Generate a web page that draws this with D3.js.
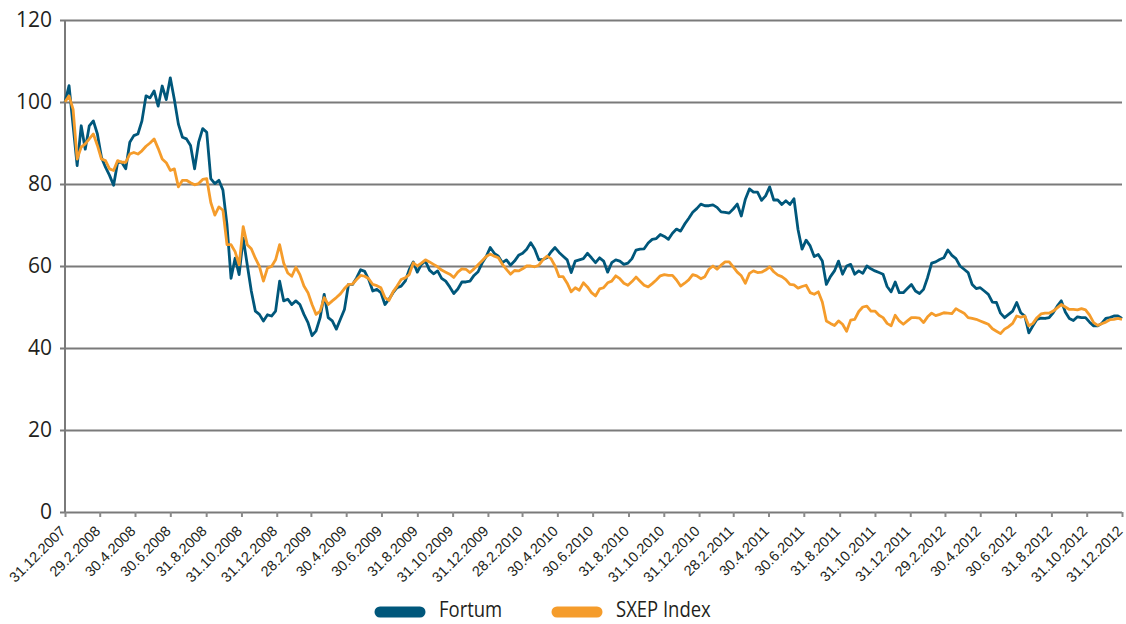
<!DOCTYPE html>
<html lang="en">
<head>
<meta charset="utf-8">
<title>Fortum vs SXEP Index</title>
<style>
  body { margin: 0; background: #ffffff; }
  svg { display: block; }
  .grid line { stroke: #7a7a7a; stroke-width: 2; }
  .ylab text { font-family: "Open Sans", "Liberation Sans", sans-serif; font-size: 21px; fill: #231f20; }
  .xaxis text { font-family: "Liberation Sans", Arial, sans-serif; font-size: 14.5px; fill: #231f20; }
  .xaxis line, .xaxis path { stroke: #8a8a8a; stroke-width: 2; }
  .legend text { font-family: "Open Sans", "Liberation Sans", sans-serif; font-size: 21px; fill: #231f20; }
</style>
</head>
<body>
<svg id="chart" width="1126" height="624"></svg>
<script src="https://cdn.jsdelivr.net/npm/d3@7"></script>
<script>
// weekly closes, indexed to 100 at 31.12.2007
var fortum = [
  100, 104, 94.2, 84.5, 94.2, 88.5, 94.2, 95.4, 92.2, 86.5,
  84.1, 82.1, 79.7, 85.3, 85.3, 83.7, 90.2, 91.8, 92.2, 95.4,
  101.5, 101, 102.7, 99, 103.9, 100.6, 105.9, 100.6, 94.6, 91.4,
  91, 89.4, 83.7, 90.2, 93.5, 92.6, 81.3, 80.1, 80.9, 78.5,
  70, 57, 61.9, 57.9, 66.8, 60.3, 53.9, 49, 48.2, 46.6,
  48.1, 47.8, 49, 56.3, 51.5, 51.9, 50.6, 51.5, 50.6, 48.2,
  46.2, 43, 44.2, 47.4, 53.1, 47.4, 46.6, 44.6, 47, 49.4,
  55.5, 55.5, 57.1, 59.1, 58.7, 56.7, 53.9, 54.3, 53.5, 50.6,
  51.9, 53.5, 54.7, 55.1, 56.3, 59.1, 61, 58.5, 60.4, 61.2,
  59, 58.1, 58.8, 57, 56.3, 54.9, 53.3, 54.4, 56.1, 56.1,
  56.3, 57.7, 58.6, 60.7, 62.3, 64.5, 63.1, 62.4, 60.8, 61.5,
  60.2, 61.2, 62.6, 63.1, 64.1, 65.7, 64.1, 61.5, 61.6, 62,
  63.4, 64.5, 63.3, 62.4, 61.5, 58.4, 61.2, 61.5, 61.8, 63.1,
  62, 60.8, 62, 61.2, 58.5, 60.8, 61.5, 61.2, 60.4, 60.7,
  61.8, 63.9, 64.1, 64.2, 65.6, 66.5, 66.7, 67.7, 67.2, 66.5,
  68, 69, 68.5, 70.2, 71.6, 73.1, 74, 75.1, 74.7, 74.7,
  74.9, 74.3, 73.2, 73.1, 72.9, 73.9, 75.1, 72.2, 76.3, 78.8,
  78, 78, 76, 77.1, 79.3, 76.1, 76.1, 75, 75.9, 75,
  76.4, 68.9, 64.1, 66.3, 64.9, 62.3, 62.8, 61.2, 55.5, 57.4,
  58.8, 61.2, 58, 60, 60.4, 58, 58.8, 58.2, 60, 59.3,
  58.8, 58.4, 58, 55, 53.7, 56.1, 53.5, 53.5, 54.5, 55.5,
  53.9, 53.3, 54.3, 57.2, 60.7, 61, 61.6, 62, 63.9, 62.6,
  61.8, 60, 59.2, 58.4, 55.5, 54.5, 54.7, 53.9, 53.1, 51.2,
  51.1, 48.5, 47.4, 48.2, 49, 51.1, 48.6, 47.8, 43.7, 45.4,
  47, 47.3, 47.2, 47.4, 48.6, 50.2, 51.5, 48.8, 47.2, 46.7,
  47.6, 47.4, 47.4, 46.3, 45.4, 45.4, 46, 47.2, 47.4, 47.8,
  47.8, 47.2
];

var sxep = [
  100, 101.5, 98.2, 86.1, 89, 89.8, 91, 92.2, 89.4, 86.1,
  85.7, 83.7, 83.3, 85.7, 85.3, 85.3, 87.3, 87.7, 87.3, 88.1,
  89.2, 90, 91, 88.7, 86.1, 85.2, 83.3, 83.7, 79.3, 80.9,
  80.9, 80.3, 79.8, 80.1, 81.1, 81.3, 75.5, 72.4, 74.4, 73.6,
  65.2, 65.2, 63.5, 60.3, 69.6, 65.2, 64.2, 61.9, 59.9, 56.3,
  59.5, 59.9, 61.5, 65.2, 60.7, 58.3, 57.5, 59.7, 57.9, 55.1,
  53.5, 50.6, 48.2, 49, 52.3, 50.6, 51.5, 52.3, 53.2, 54.5,
  55.5, 55.6, 56.7, 57.7, 57.5, 56.9, 55.5, 55.2, 54.7, 52.3,
  51.6, 53.7, 55.1, 56.7, 57.1, 57.9, 60.8, 60, 60.7, 61.5,
  61, 60.4, 59.8, 59, 58.5, 58, 57.2, 58.5, 59.3, 59.2,
  58.4, 59.3, 60.3, 61.3, 62.3, 62.9, 62.4, 62, 60.4, 59.2,
  58, 58.9, 58.8, 59.3, 60, 60, 59.8, 60.2, 61.5, 62.4,
  61.8, 60, 57.4, 57.4, 55.8, 53.7, 54.7, 54.1, 55.9, 54.9,
  53.5, 52.7, 54.4, 54.7, 55.9, 56.3, 57.6, 56.9, 55.8, 55.3,
  56.2, 57.3, 56.3, 55.3, 54.9, 55.7, 56.6, 57.6, 57.9, 57.7,
  57.7, 56.6, 55.1, 55.8, 56.6, 57.9, 57.6, 56.9, 57.4, 59.2,
  60, 59.2, 60.2, 61, 61, 59.8, 58.5, 57.6, 55.8, 58.2,
  58.8, 58.4, 58.5, 59, 59.8, 58.6, 57.8, 57.4, 56.7, 55.5,
  55.4, 54.6, 55, 55.3, 53.5, 53.1, 53.7, 51.2, 46.6, 46,
  45.5, 46.6, 45.8, 44.1, 46.8, 47, 48.9, 50, 50.2, 49,
  49, 48, 47.4, 46, 45.4, 48, 46.6, 45.8, 46.6, 47.4,
  47.4, 47.3, 46.2, 47.6, 48.5, 47.9, 48.2, 48.6, 48.5, 48.4,
  49.6, 49, 48.5, 47.4, 47.2, 47, 46.6, 46.2, 45.8, 44.7,
  44.1, 43.5, 44.6, 45.2, 46, 47.8, 47.5, 47.8, 45.4, 46,
  47.4, 48.3, 48.5, 48.5, 49, 49.8, 50.6, 50, 49.4, 49.4,
  49.3, 49.6, 49.3, 48, 46.2, 45.5, 45.9, 46.3, 46.9, 47,
  47.2, 47
];

var xTickLabels = [
  "31.12.2007", "29.2.2008", "30.4.2008", "30.6.2008", "31.8.2008", "31.10.2008",
  "31.12.2008", "28.2.2009", "30.4.2009", "30.6.2009", "31.8.2009", "31.10.2009",
  "31.12.2009", "28.2.2010", "30.4.2010", "30.6.2010", "31.8.2010", "31.10.2010",
  "31.12.2010", "28.2.2011", "30.4.2011", "30.6.2011", "31.8.2011", "31.10.2011",
  "31.12.2011", "29.2.2012", "30.4.2012", "30.6.2012", "31.8.2012", "31.10.2012",
  "31.12.2012"
];
var yTicks = [0, 20, 40, 60, 80, 100, 120];
var seriesNames = ["Fortum", "SXEP Index"];
var seriesColors = ["#00577b", "#f59c2b"];

var parseDay = d3.timeParse("%d.%m.%Y");
var startDate = parseDay("31.12.2007");
var endDate = parseDay("31.12.2012");

var svg = d3.select("#chart");

var x = d3.scaleTime().domain([startDate, endDate]).range([65, 1122]);
var y = d3.scaleLinear().domain([0, 120]).range([512, 20]);

// gridlines + y labels
var yAxis = d3.axisLeft(y)
  .tickValues(yTicks)
  .tickSize(-(1122 - 60))
  .tickPadding(8)
  .tickFormat(d3.format("d"));

var gy = svg.append("g")
  .attr("class", "grid ylab")
  .attr("transform", "translate(60,0)")
  .call(yAxis);
gy.select(".domain").remove();

// left axis line
svg.append("line")
  .attr("x1", 65).attr("x2", 65)
  .attr("y1", y(120)).attr("y2", y(0) + 1)
  .attr("stroke", "#7a7a7a")
  .attr("stroke-width", 2);

// bottom axis ticks + rotated labels
var tickDates = xTickLabels.map(parseDay);
var xAxis = d3.axisBottom(x)
  .tickValues(tickDates)
  .tickSize(5)
  .tickSizeOuter(0)
  .tickFormat(function(d, i) { return xTickLabels[i]; });

var gx = svg.append("g")
  .attr("class", "xaxis")
  .attr("transform", "translate(0," + y(0) + ")")
  .call(xAxis);
gx.select(".domain").remove();
gx.selectAll("text")
  .attr("text-anchor", "end")
  .attr("x", 0).attr("y", 0).attr("dy", 0)
  .attr("transform", "translate(1,20) rotate(-45)");

// series
var line = d3.line()
  .x(function(d, i) { return x(d3.timeDay.offset(startDate, 7 * i)); })
  .y(function(d) { return y(d); });

[fortum, sxep].forEach(function(s, k) {
  svg.append("path")
    .datum(s)
    .attr("fill", "none")
    .attr("stroke", seriesColors[k])
    .attr("stroke-width", 2.8)
    .attr("stroke-linejoin", "round")
    .attr("d", line);
});

// legend
var legend = svg.append("g").attr("class", "legend");
var legX = [380, 557];
seriesNames.forEach(function(n, k) {
  legend.append("line")
    .attr("x1", legX[k]).attr("x2", legX[k] + 40)
    .attr("y1", 612).attr("y2", 612)
    .attr("stroke", seriesColors[k])
    .attr("stroke-width", 11)
    .attr("stroke-linecap", "round");
  legend.append("text")
    .attr("transform", "translate(" + (legX[k] + 59) + ",617) scale(0.88,1)")
    .text(n);
});
</script>
</body>
</html>
